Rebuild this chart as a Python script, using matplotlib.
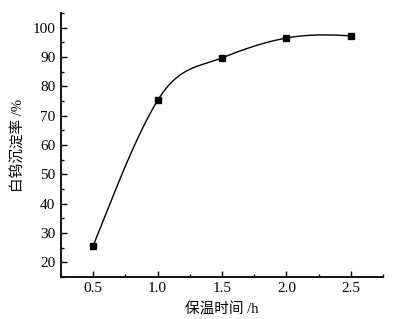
import numpy as np
import matplotlib
matplotlib.use("Agg")
import matplotlib.pyplot as plt
from matplotlib.ticker import MultipleLocator

plt.rcParams['font.family'] = ['Liberation Serif', 'Noto Sans CJK SC']

# data
time_h = [0.5, 1.0, 1.5, 2.0, 2.5]
rate = [25.6, 75.2, 89.7, 96.5, 97.2]
# tangent estimates for the smooth connecting line
slopes = [110, 72, 18, 8, -3]
xticks = [0.5, 1.0, 1.5, 2.0, 2.5]
yticks = [20, 30, 40, 50, 60, 70, 80, 90, 100]


def hermite_line(x, y, m, n=60):
    # cubic hermite pieces between the measured points
    xs_all, ys_all = [], []
    for i in range(len(x) - 1):
        h = x[i + 1] - x[i]
        t = np.linspace(0, 1, n)
        h00 = 2 * t ** 3 - 3 * t ** 2 + 1
        h10 = t ** 3 - 2 * t ** 2 + t
        h01 = -2 * t ** 3 + 3 * t ** 2
        h11 = t ** 3 - t ** 2
        xs_all.append(x[i] + t * h)
        ys_all.append(h00 * y[i] + h10 * h * m[i] + h01 * y[i + 1] + h11 * h * m[i + 1])
    return np.concatenate(xs_all), np.concatenate(ys_all)


fig = plt.figure(figsize=(3.93, 3.19), dpi=100)
ax = fig.add_axes([0.155, 0.132, 0.82, 0.827])

xs, ys = hermite_line(time_h, rate, slopes)
ax.plot(xs, ys, color='black', lw=1.0)
ax.plot(time_h, rate, 's', color='black', markersize=4.5)

ax.set_xlim(0.25, 2.75)
ax.set_ylim(15, 105)
ax.set_xticks(xticks)
ax.set_yticks(yticks)
ax.set_xticklabels(['%.1f' % v for v in xticks])
ax.xaxis.set_minor_locator(MultipleLocator(0.25))
ax.yaxis.set_minor_locator(MultipleLocator(5))
ax.tick_params(direction='in', which='major', length=4, width=1, labelsize=11, pad=4)
ax.tick_params(direction='in', which='minor', length=2.5, width=1)

for s in ['top', 'right']:
    ax.spines[s].set_visible(False)
for s in ['left', 'bottom']:
    ax.spines[s].set_linewidth(1.3)

ax.set_xlabel('保温时间 /h', fontsize=10.5, labelpad=5)
ax.set_ylabel('白钨沉淀率 /%', fontsize=10.5, labelpad=5)

fig.savefig('out.png', dpi=100)
